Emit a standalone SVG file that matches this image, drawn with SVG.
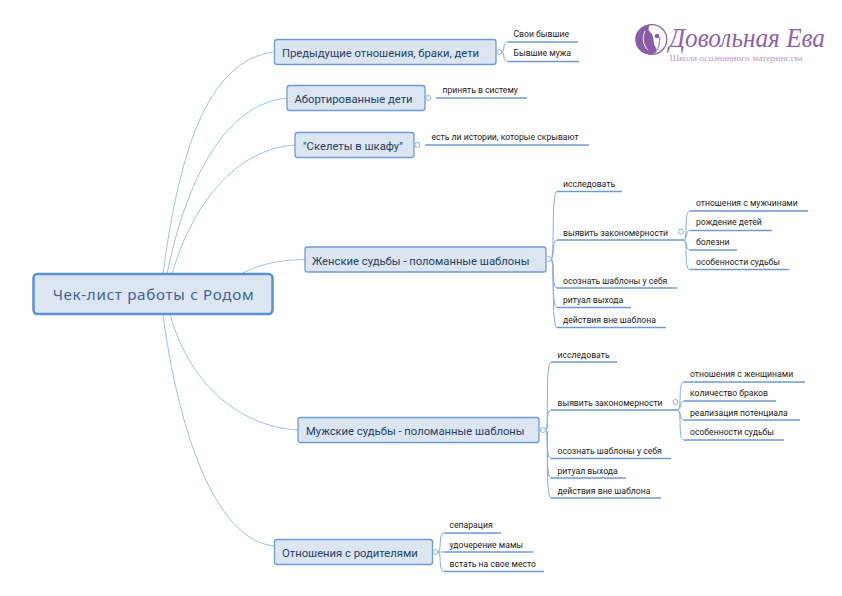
<svg xmlns="http://www.w3.org/2000/svg" width="842" height="596" viewBox="0 0 842 596">
<style>
text{font-family:Roboto,"Liberation Sans",sans-serif}
.n rect{fill:#dce6f2;stroke:#6f9bd8;stroke-width:1.3}
.n .t{font-size:11.250px;fill:#24406a}
.c{fill:none;stroke:#a3c2ea;stroke-width:1}
.b{fill:none;stroke:#85ade3;stroke-width:1}
.u{fill:none;stroke:#6f9bd8;stroke-width:1.5}
.d{fill:#fff;stroke:#8fb2e2;stroke-width:1}
.n .l{font-size:8.650px;fill:#1c1c1c}
</style>
<rect width="842" height="596" fill="#fff"/>
<g id="connectors">
<path class="c" d="M163 274C178 160 205 60 274 52"/>
<path class="c" d="M167 274C186 180 225 104 287 98"/>
<path class="c" d="M172 274C192 205 235 149 295 145"/>
<path class="c" d="M243 273C262 263 282 260 305 259.500"/>
<path class="c" d="M170 314C188 380 235 426 298 430"/>
<path class="c" d="M163 314C178 430 215 540 274 546"/>

<path class="b" d="M496 52H499M502 52C505 52 502 42 508 42M502 52C505 52 502 61.500 508 61.500"/>
<path class="u" d="M508 42H578M508 61.500H579"/>
<path class="b" d="M425 98H428"/><path class="u" d="M436 98H527"/>
<path class="b" d="M414 145H417"/><path class="u" d="M425 145H589"/>

<path class="b" d="M546 259H551C555 259 551 191.500 557 191.500M551 259C555 259 551 240 557 240M551 259C555 259 551 288 557 288M551 259C555 259 551 307.500 557 307.500M551 259C555 259 551 327.500 557 327.500"/>
<path class="u" d="M557 191.500H622M557 240H683M557 288H677M557 307.500H631M557 327.500H666"/>
<path class="b" d="M683 240C689 240 683 211 690 211M683 240C688 240 685 230.500 690 230.500M683 240C688 240 685 250 690 250M683 240C689 240 683 269.500 690 269.500"/>
<path class="u" d="M690 211H808M690 230.500H772M690 250H737M690 269.500H789"/>

<path class="b" d="M539 430H546C549 430 545 362 551 362M546 430C549 430 545 410 551 410M546 430C549 430 545 458.500 551 458.500M546 430C549 430 545 478 551 478M546 430C549 430 545 498 551 498"/>
<path class="u" d="M551 362H617M551 410H677M551 458.500H671M551 478H626M551 498H661"/>
<path class="b" d="M677 410C683 410 677 382 684 382M677 410C682 410 679 401 684 401M677 410C682 410 679 420 684 420M677 410C683 410 677 440 684 440"/>
<path class="u" d="M684 382H805M684 401H776M684 420H800M684 440H784"/>

<path class="b" d="M432 552H438C442 552 438 533 444 533M438 552H444M438 552C442 552 438 571.500 444 571.500"/>
<path class="u" d="M444 533H501M444 552H533M444 571.500H544"/>
</g>

<g id="root"><rect x="33.500" y="274" width="239" height="40" rx="4" fill="#dce6f2" stroke="#5b90d8" stroke-width="2.500"/><text x="153.500" y="299.500" text-anchor="middle" font-size="15.200" letter-spacing=".7" fill="#3f6498" style="font-family:'Noto Sans',sans-serif">Чек-лист работы с Родом</text></g>

<g id="n1" class="n"><rect x="274.500" y="39.500" width="221.500" height="25" rx="2.500"/><text class="t" x="282" y="56.500">Предыдущие отношения, браки, дети</text><circle class="d" cx="499.300" cy="52" r="2.500"/><text class="l" x="513.500" y="37">Свои бывшие</text><text class="l" x="513.500" y="56">Бывшие мужа</text></g>
<g id="n2" class="n"><rect x="287" y="85.500" width="138" height="25" rx="2.500"/><text class="t" x="294.500" y="103">Абортированные дети</text><circle class="d" cx="428.300" cy="98" r="2.500"/><text class="l" x="442.500" y="93">принять в систему</text></g>
<g id="n3" class="n"><rect x="295" y="132.500" width="119" height="25" rx="2.500"/><text class="t" x="303" y="150">"Скелеты в шкафу"</text><circle class="d" cx="417.300" cy="145" r="2.500"/><text class="l" x="431.500" y="140">есть ли истории, которые скрывают</text></g>

<g id="n4" class="n"><rect x="305" y="247" width="241" height="25" rx="2.500"/><text class="t" x="312" y="264.500">Женские судьбы - поломанные шаблоны</text><circle class="d" cx="548.700" cy="259" r="2.500"/>
<text class="l" x="563" y="187">исследовать</text><text class="l" x="563" y="235.500">выявить закономерности</text><circle class="d" cx="681" cy="231.500" r="2.500"/><text class="l" x="563" y="283.500">осознать шаблоны у себя</text><text class="l" x="563" y="303">ритуал выхода</text><text class="l" x="563" y="323">действия вне шаблона</text>
<text class="l" x="696" y="206">отношения с мужчинами</text><text class="l" x="696" y="225">рождение детей</text><text class="l" x="696" y="245">болезни</text><text class="l" x="696" y="264.500">особенности судьбы</text></g>

<g id="n5" class="n"><rect x="298" y="417.500" width="241" height="25" rx="2.500"/><text class="t" x="306" y="435">Мужские судьбы - поломанные шаблоны</text><circle class="d" cx="543" cy="430" r="2.500"/>
<text class="l" x="557.500" y="357.500">исследовать</text><text class="l" x="557.500" y="406">выявить закономерности</text><circle class="d" cx="675.500" cy="402" r="2.500"/><text class="l" x="557.500" y="454">осознать шаблоны у себя</text><text class="l" x="557.500" y="474">ритуал выхода</text><text class="l" x="557.500" y="493.500">действия вне шаблона</text>
<text class="l" x="690" y="376.500">отношения с женщинами</text><text class="l" x="690" y="396">количество браков</text><text class="l" x="690" y="415.500">реализация потенциала</text><text class="l" x="690" y="435">особенности судьбы</text></g>

<g id="n6" class="n"><rect x="274.500" y="539.500" width="158" height="25" rx="2.500"/><text class="t" x="282" y="557">Отношения с родителями</text><circle class="d" cx="435.500" cy="552" r="2.500"/><text class="l" x="449.500" y="528">сепарация</text><text class="l" x="449.500" y="547.500">удочерение мамы</text><text class="l" x="449.500" y="567">встать на свое место</text></g>

<g id="logo">
<circle cx="652" cy="39.500" r="14.800" fill="#fff" stroke="#8a5ba6" stroke-width="1.200"/>
<path d="M650 24.700A14.800 14.800 0 0 0 650 54.300C655 54 658 52 656 48C652 42 655 36 650 32C648 30 648 27 650 24.700Z" fill="#8a5ba6"/>
<path d="M645 31C642 38 643 45 648 50" fill="none" stroke="#fff" stroke-width="1"/>
<path d="M657 50C660 45 659 42 660 37" fill="none" stroke="#8a5ba6" stroke-width="1"/>
<circle cx="657" cy="36" r="2.300" fill="#8a5ba6"/>
<text x="669" y="47" font-size="28" font-style="italic" fill="#8f62ab" textLength="156" lengthAdjust="spacingAndGlyphs" style="font-family:'Liberation Serif',serif">Довольная Ева</text>
<text x="669.500" y="61" font-size="9" fill="#b89ccb" textLength="133" lengthAdjust="spacingAndGlyphs" style="font-family:'Liberation Serif',serif">Школа осознанного материнства</text>
</g>
</svg>
